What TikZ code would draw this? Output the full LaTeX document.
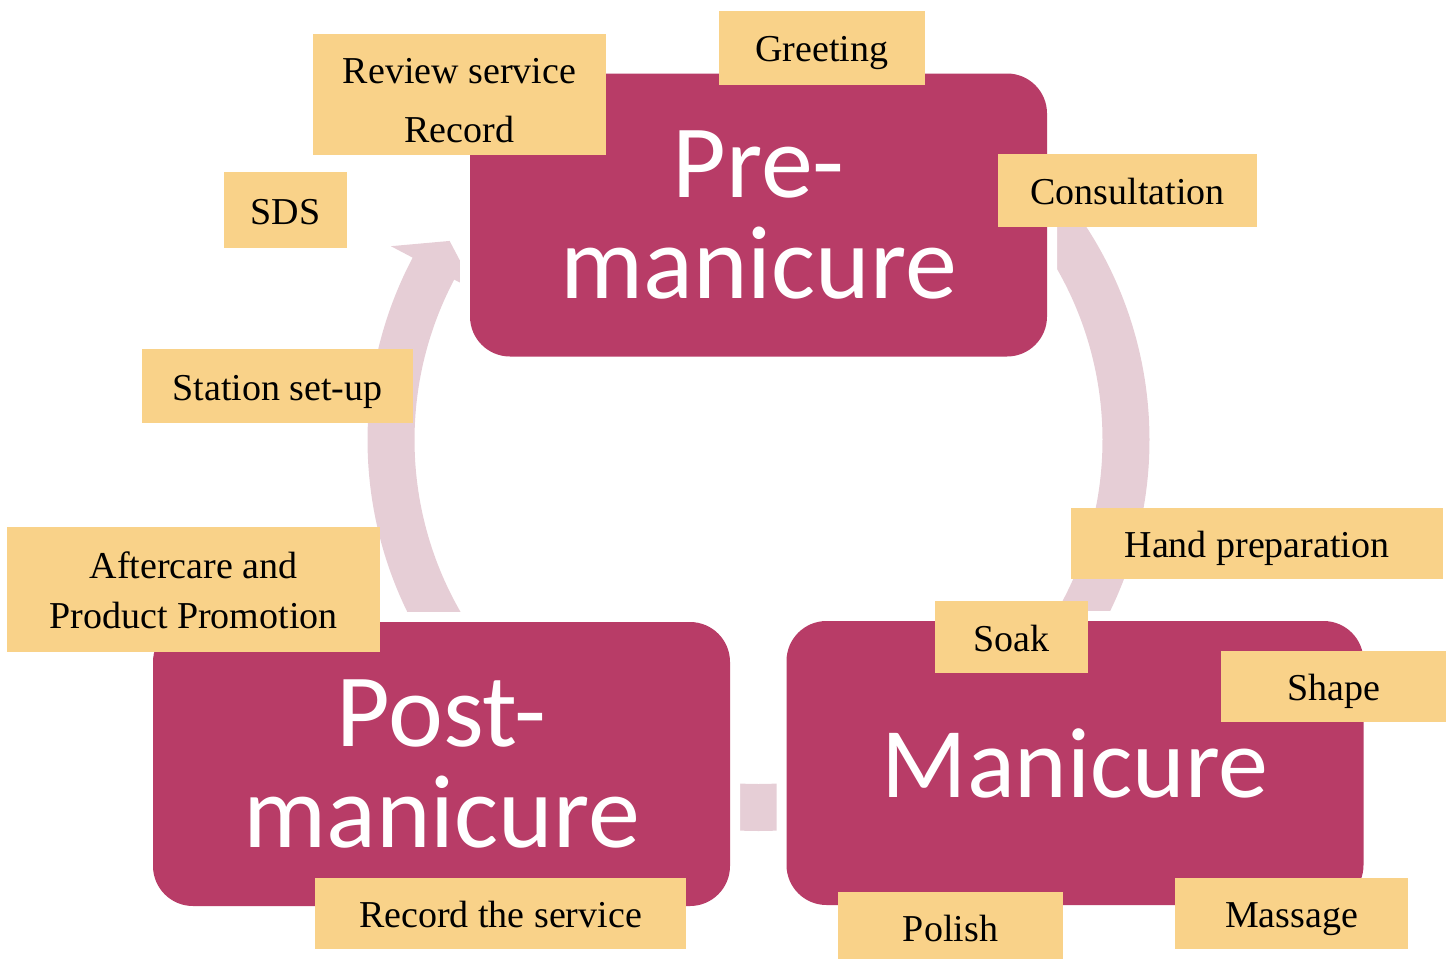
\documentclass[tikz,border=0pt]{standalone}
\usepackage{fontspec}
\newfontfamily\calibrifont{Carlito}
\newfontfamily\serifface{Liberation Serif}
\newcommand\stagefont{\calibrifont\fontsize{104}{101}\selectfont}
\newcommand\tagfont{\serifface\fontsize{38}{59}\selectfont}
\definecolor{stagemag}{RGB}{184,60,103}
\definecolor{ringpink}{RGB}{230,206,214}
\definecolor{tagyellow}{RGB}{249,210,137}

\begin{document}
\begin{tikzpicture}[x=1pt, y=-1pt,
		stage/.style={rectangle, rounded corners=40pt, fill=stagemag, inner sep=0pt,
			minimum width=577pt, minimum height=284pt, text=white, font=\stagefont,
			align=center, preaction={draw=white, line width=20pt}},
		tag/.style={rectangle, fill=tagyellow, inner sep=0pt, text height=34pt,
			text depth=6pt, font=\tagfont, align=center}]
		%%%%% START %%%%%
		\useasboundingbox (0,0) rectangle (1450,958);
		\coordinate (c) at (758.5,440);
		
		% ring behind the stages
		\draw[ringpink, line width=47pt] ([shift={(c)}]-40:367.5) arc[start angle=-40, end angle=35, radius=367.5];
		\draw[ringpink, line width=47pt] ([shift={(c)}]75:367.5) arc[start angle=75, end angle=105, radius=367.5];
		\fill[ringpink] ([shift={(c)}]145:391) arc[start angle=145, end angle=207.8, radius=391]
			-- ([shift={(c)}]207.8:415.6) -- ([shift={(c)}]212.8:367.5) -- ([shift={(c)}]207.8:319.4)
			-- ([shift={(c)}]207.8:344) arc[start angle=207.8, end angle=145, radius=344] -- cycle;
		
		% stages
		\node[stage, minimum height=283pt] (pre) at (758.5,215) {Pre-\\manicure};
		\node[stage, font={\calibrifont\fontsize{100}{100}\selectfont}] (mani) at (1075,763) {Manicure};
		\node[stage] (post) at (441.5,764) {Post-\\manicure};
		
		% steps
		\node[tag, minimum width=206pt, minimum height=74pt] (greet) at (822,48) {Greeting};
		\node[tag, minimum width=293pt, minimum height=121pt, text height=101pt] (review) at (459.5,94.5) {Review service\\Record};
		\node[tag, minimum width=259pt, minimum height=73pt] (consult) at (1127.5,190.5) {Consultation};
		\node[tag, minimum width=123pt, minimum height=76pt] (sds) at (285.5,210) {SDS};
		\node[tag, minimum width=271pt, minimum height=74pt] (station) at (277.5,386) {Station set-up};
		\node[tag, minimum width=373pt, minimum height=125pt, text height=83pt,
			font={\tagfont\fontsize{38}{50}\selectfont}] (after) at (193.5,589.5) {Aftercare and\\Product Promotion};
		\node[tag, minimum width=372pt, minimum height=71pt] (handprep) at (1257,543.5) {Hand preparation};
		\node[tag, minimum width=153pt, minimum height=72pt] (soak) at (1011.5,637) {Soak};
		\node[tag, minimum width=225pt, minimum height=71pt] (tshape) at (1333.5,686.5) {Shape};
		\node[tag, minimum width=371pt, minimum height=71pt] (recsvc) at (500.5,913.5) {Record the service};
		\node[tag, minimum width=225pt, minimum height=70pt] (polish) at (950.5,927) {Polish};
		\node[tag, minimum width=233pt, minimum height=71pt] (massage) at (1291.5,913.5) {Massage};
		%%%%% END %%%%%
\end{tikzpicture}
\end{document}
